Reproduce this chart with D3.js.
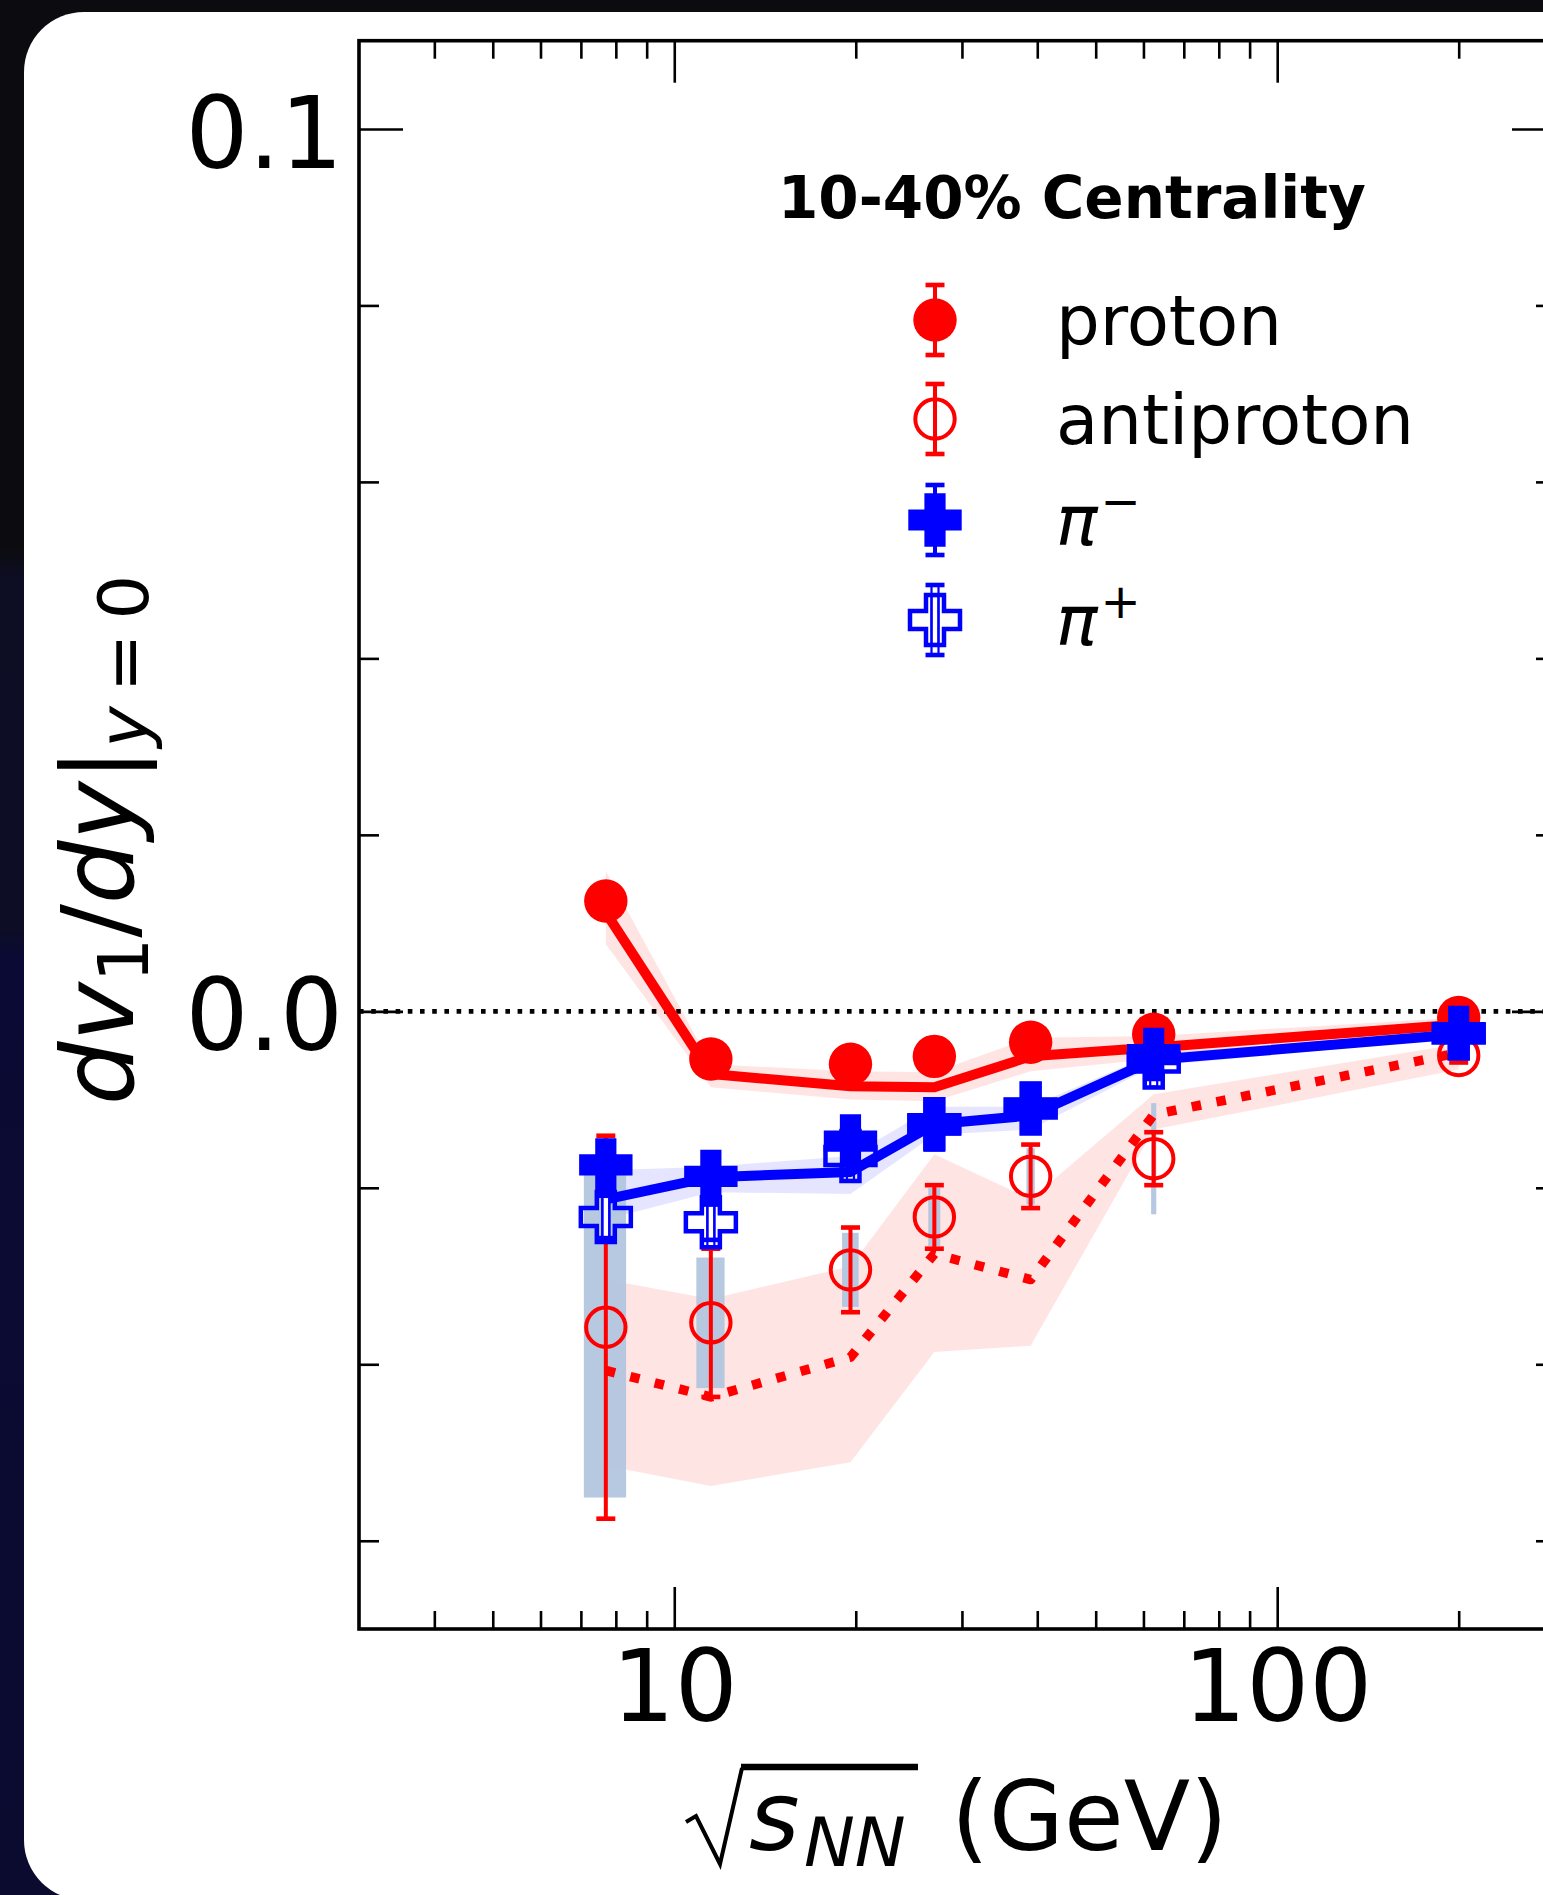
<!DOCTYPE html>
<html><head><meta charset="utf-8">
<script src="https://cdn.jsdelivr.net/npm/d3@7"></script>
<style>html,body{margin:0;padding:0;background:#0b0b10;overflow:hidden}</style>
</head><body>
<svg id="chart" width="1543" height="1895"></svg>
<script>
// ---------------- data ----------------
const energies = [7.7, 11.5, 19.6, 27, 39, 62.4, 200];

const protonV1 = [0.0125, -0.0054, -0.0060, -0.0051, -0.0035, -0.0026, -0.0007];
const protonErr = [0.0015, 0.0006, 0.0004, 0.0003, 0.0003, 0.0003, 0.0001];
const antiprotonV1 = [-0.0358, -0.0353, -0.0293, -0.0233, -0.0187, -0.0167, -0.0050];
const antiprotonErr = [0.0217, 0.0084, 0.0048, 0.0036, 0.0036, 0.0030, 0.0008];
const antiprotonSys = [0.0193, 0.0074, 0.0042, 0.0033, 0.0032, 0.0063, 0.0005];
const piMinusV1 = [-0.0174, -0.0187, -0.0147, -0.0129, -0.0110, -0.0049, -0.0024];
const piMinusErr = [0.0012, 0.0008, 0.0005, 0.0004, 0.0004, 0.0004, 0.0001];
const piPlusV1 = [-0.0233, -0.0239, -0.0164, -0.0128, -0.0110, -0.0058, -0.0025];
const piPlusErr = [0.0024, 0.0020, 0.0008, 0.0006, 0.0006, 0.0006, 0.0002];

const protonModel = [0.0112, -0.0071, -0.0085, -0.0086, -0.0051, -0.0041, -0.0015];
const protonModelLow = [0.0076, -0.0086, -0.0100, -0.0102, -0.0068, -0.0054, -0.0024];
const protonModelHigh = [0.0159, -0.0060, -0.0068, -0.0069, -0.0030, -0.0028, -0.0007];
const antiprotonModel = [-0.0407, -0.0437, -0.0392, -0.0275, -0.0304, -0.0117, -0.0047];
const antiprotonModelLow = [-0.0515, -0.0538, -0.0511, -0.0386, -0.0379, -0.0134, -0.0066];
const antiprotonModelHigh = [-0.0304, -0.0326, -0.0289, -0.0162, -0.0213, -0.0094, -0.0037];
const pionModel = [-0.0213, -0.0188, -0.0182, -0.0128, -0.0118, -0.0055, -0.0026];
const pionModelLow = [-0.0236, -0.0205, -0.0207, -0.0140, -0.0134, -0.0062, -0.0030];
const pionModelHigh = [-0.0180, -0.0176, -0.0164, -0.0108, -0.0108, -0.0048, -0.0022];

const xMajorTicks = [10, 100];
const xMinorTicks = [4, 5, 6, 7, 8, 9, 20, 30, 40, 50, 60, 70, 80, 90, 200];
const yMajorTicks = [0.0, 0.1];
const yMinorTicks = [-0.06, -0.04, -0.02, 0.02, 0.04, 0.06, 0.08];

const legendTitle = "10-40% Centrality";
const legendLabels = ["proton", "antiproton", "π|−", "π|+"];
const sysHalfWidthGeV = 0.62;

// ---------------- layout ----------------
const RED = "#ff0000", BLUE = "#0000ff";
const M = {left: 359, top: 40.7, right: 1556, bottom: 1629};
const svg = d3.select("#chart");
const x = d3.scaleLog().domain([3, 290]).range([M.left, M.right]);
const y = d3.scaleLinear().domain([-0.07, 0.11]).range([M.bottom, M.top]);

const defs = svg.append("defs");
const grad = defs.append("linearGradient").attr("id", "bg").attr("x1", 0).attr("y1", 0).attr("x2", 0).attr("y2", 1);
[[0, "#0c0c10"], [0.29, "#0c0c10"], [0.305, "#0d0d24"], [0.49, "#0d0d26"], [0.505, "#0a0a34"], [1, "#0b0b30"]]
  .forEach(([o, c]) => grad.append("stop").attr("offset", o).attr("stop-color", c));
defs.append("clipPath").attr("id", "plotclip").append("rect")
  .attr("x", M.left).attr("y", M.top).attr("width", M.right - M.left).attr("height", M.bottom - M.top);

svg.append("rect").attr("width", 1543).attr("height", 1895).attr("fill", "url(#bg)");
svg.append("rect").attr("x", 24).attr("y", 12).attr("width", 1700).attr("height", 1888).attr("rx", 60).attr("fill", "#fff");

const plot = svg.append("g").attr("clip-path", "url(#plotclip)");

// zero line
plot.append("line").attr("x1", M.left).attr("x2", M.right).attr("y1", y(0)).attr("y2", y(0))
  .attr("stroke", "#000").attr("stroke-width", 4.6).attr("stroke-dasharray", "4.6 7.6");

// bands
const idx = d3.range(energies.length);
function band(low, high, color, op) {
  const area = d3.area().x(i => x(energies[i])).y0(i => y(low[i])).y1(i => y(high[i]));
  plot.append("path").attr("d", area(idx)).attr("fill", color).attr("fill-opacity", op);
}
band(antiprotonModelLow, antiprotonModelHigh, RED, 0.105);
band(protonModelLow, protonModelHigh, RED, 0.105);
band(pionModelLow, pionModelHigh, BLUE, 0.1);

// systematic boxes (antiproton)
plot.append("g").selectAll("rect").data(idx).join("rect")
  .attr("x", i => x(energies[i] - sysHalfWidthGeV))
  .attr("width", i => x(energies[i] + sysHalfWidthGeV) - x(energies[i] - sysHalfWidthGeV))
  .attr("y", i => y(antiprotonV1[i] + antiprotonSys[i]))
  .attr("height", i => y(antiprotonV1[i] - antiprotonSys[i]) - y(antiprotonV1[i] + antiprotonSys[i]))
  .attr("fill", "#b0c4de").attr("fill-opacity", 0.92);

// model lines
function modelLine(vals, color, dash, w) {
  const ln = d3.line().x(i => x(energies[i])).y(i => y(vals[i]));
  const p = plot.append("path").attr("d", ln(idx)).attr("fill", "none").attr("stroke", color)
    .attr("stroke-width", w).attr("stroke-linejoin", "round");
  if (dash) p.attr("stroke-dasharray", dash);
}
modelLine(protonModel, RED, null, 10);
modelLine(pionModel, BLUE, null, 10);
modelLine(antiprotonModel, RED, "9.5 15.7", 9.5);

// markers
function crossPath(s, a) {
  return `M${-a},${-s}L${a},${-s}L${a},${-a}L${s},${-a}L${s},${a}L${a},${a}L${a},${s}L${-a},${s}L${-a},${a}L${-s},${a}L${-s},${-a}L${-a},${-a}Z`;
}
function drawErr(g, cx, yt, yb, color, hollow) {
  if (hollow) {
    g.append("rect").attr("x", cx - 3.5).attr("y", yt).attr("width", 7).attr("height", yb - yt)
      .attr("fill", "#fff").attr("stroke", color).attr("stroke-width", 2.2);
  } else {
    g.append("line").attr("x1", cx).attr("x2", cx).attr("y1", yt).attr("y2", yb)
      .attr("stroke", color).attr("stroke-width", 4);
  }
  [yt, yb].forEach(yy => g.append("line").attr("x1", cx - 9.5).attr("x2", cx + 9.5)
    .attr("y1", yy).attr("y2", yy).attr("stroke", color).attr("stroke-width", 4.6));
}
function drawMarker(g, kind, cx, cy, yt, yb) {
  const m = g.append("g");
  if (kind === "proton") {
    drawErr(m, cx, yt, yb, RED, false);
    m.append("circle").attr("cx", cx).attr("cy", cy).attr("r", 21.7).attr("fill", RED);
  } else if (kind === "antiproton") {
    m.append("circle").attr("cx", cx).attr("cy", cy).attr("r", 19.7).attr("fill", "none")
      .attr("stroke", RED).attr("stroke-width", 4);
    drawErr(m, cx, yt, yb, RED, false);
  } else if (kind === "piminus") {
    drawErr(m, cx, yt, yb, BLUE, false);
    m.append("path").attr("transform", `translate(${cx},${cy})`).attr("d", crossPath(26.7, 10.6)).attr("fill", BLUE);
  } else {
    drawErr(m, cx, yt, yb, BLUE, true);
    m.append("path").attr("transform", `translate(${cx},${cy})`).attr("d", crossPath(25, 9))
      .attr("fill", "none").attr("stroke", BLUE).attr("stroke-width", 4.5);
    m.append("rect").attr("x", cx - 3.5).attr("y", cy - 24).attr("width", 7).attr("height", 48)
      .attr("fill", "none").attr("stroke", BLUE).attr("stroke-width", 2.2);
  }
}
const seriesList = [
  {kind: "antiproton", v: antiprotonV1, e: antiprotonErr},
  {kind: "piplus", v: piPlusV1, e: piPlusErr},
  {kind: "proton", v: protonV1, e: protonErr},
  {kind: "piminus", v: piMinusV1, e: piMinusErr},
];
const dataG = svg.append("g");
seriesList.forEach(s => idx.forEach(i => drawMarker(dataG, s.kind, x(energies[i]), y(s.v[i]),
  y(s.v[i] + s.e[i]), y(s.v[i] - s.e[i]))));

// ---------------- axes ----------------
const FONT = "DejaVu Sans";
function styleAxis(g, w) {
  g.select(".domain").remove();
  g.selectAll(".tick line").attr("stroke", "#000").attr("stroke-width", w);
  g.selectAll("text").attr("font-family", FONT).attr("font-size", 99).attr("fill", "#000");
}
const gxB = svg.append("g").attr("transform", `translate(0,${M.bottom})`)
  .call(d3.axisBottom(x).tickValues(xMajorTicks).tickSize(-42).tickPadding(22).tickFormat(d3.format("d")));
styleAxis(gxB, 2.6);
svg.append("g").attr("transform", `translate(0,${M.bottom})`)
  .call(d3.axisBottom(x).tickValues(xMinorTicks).tickSize(-18).tickFormat("")).call(g => styleAxis(g, 2.6));
svg.append("g").attr("transform", `translate(0,${M.top})`)
  .call(d3.axisTop(x).tickValues(xMajorTicks).tickSize(-42).tickFormat("")).call(g => styleAxis(g, 2.6));
svg.append("g").attr("transform", `translate(0,${M.top})`)
  .call(d3.axisTop(x).tickValues(xMinorTicks).tickSize(-18).tickFormat("")).call(g => styleAxis(g, 2.6));

const gyL = svg.append("g").attr("transform", `translate(${M.left},0)`)
  .call(d3.axisLeft(y).tickValues(yMajorTicks).tickSize(-44).tickPadding(16).tickFormat(d3.format(".1f")));
styleAxis(gyL, 2.6);
gyL.selectAll("text").attr("dy", "0.385em");
svg.append("g").attr("transform", `translate(${M.left},0)`)
  .call(d3.axisLeft(y).tickValues(yMinorTicks).tickSize(-20).tickFormat("")).call(g => styleAxis(g, 2.6));
svg.append("g").attr("transform", `translate(${M.right},0)`)
  .call(d3.axisRight(y).tickValues(yMajorTicks).tickSize(-44).tickFormat("")).call(g => styleAxis(g, 2.6));
svg.append("g").attr("transform", `translate(${M.right},0)`)
  .call(d3.axisRight(y).tickValues(yMinorTicks).tickSize(-20).tickFormat("")).call(g => styleAxis(g, 2.6));

svg.append("rect").attr("x", M.left).attr("y", M.top).attr("width", M.right - M.left).attr("height", M.bottom - M.top)
  .attr("fill", "none").attr("stroke", "#000").attr("stroke-width", 3.6);

// axis labels
const yl = svg.append("text").attr("transform", "translate(133,840) rotate(-90)")
  .attr("text-anchor", "middle").attr("font-family", FONT).attr("font-size", 100).attr("fill", "#000");
yl.append("tspan").attr("font-style", "italic").text("dv");
yl.append("tspan").attr("font-size", 70).attr("dy", 15).text("1");
yl.append("tspan").attr("dy", -15).text("/");
yl.append("tspan").attr("font-style", "italic").text("dy");
yl.append("tspan").text("|");
yl.append("tspan").attr("font-size", 70).attr("dy", 15).attr("font-style", "italic").text("y");
yl.append("tspan").attr("font-size", 70).text("\u2009=\u20090");

svg.append("path").attr("d", "M686,1822 L696,1816 L720,1864 L742,1768").attr("fill", "none")
  .attr("stroke", "#000").attr("stroke-width", 4).attr("stroke-linejoin", "miter");
svg.append("line").attr("x1", 741).attr("x2", 918).attr("y1", 1767).attr("y2", 1767)
  .attr("stroke", "#000").attr("stroke-width", 6.5);
svg.append("text").attr("x", 749).attr("y", 1850).attr("font-family", FONT).attr("font-style", "italic")
  .attr("font-size", 97).text("s");
svg.append("text").attr("x", 804).attr("y", 1866).attr("font-family", FONT).attr("font-style", "italic")
  .attr("font-size", 68).text("NN");
svg.append("text").attr("x", 951).attr("y", 1850).attr("font-family", FONT)
  .attr("font-size", 97).text("(GeV)");

// ---------------- legend ----------------
svg.append("text").attr("x", 778).attr("y", 218).attr("font-family", FONT).attr("font-weight", "bold")
  .attr("font-size", 58).text(legendTitle);
const legKinds = ["proton", "antiproton", "piminus", "piplus"];
const legRowY = [320, 419, 520, 620];
legKinds.forEach((k, i) => {
  drawMarker(svg, k, 935, legRowY[i], legRowY[i] - 35, legRowY[i] + 35);
  const parts = legendLabels[i].split("|");
  const t = svg.append("text").attr("x", 1056).attr("y", legRowY[i] + 24.5)
    .attr("font-family", FONT).attr("font-size", 69).attr("fill", "#000");
  if (parts.length === 1) t.text(parts[0]);
  else {
    t.append("tspan").attr("font-style", "italic").text(parts[0]);
    t.append("tspan").attr("font-size", 48).attr("dy", -27).attr("dx", 3).text(parts[1]);
  }
});
</script>
</body></html>
